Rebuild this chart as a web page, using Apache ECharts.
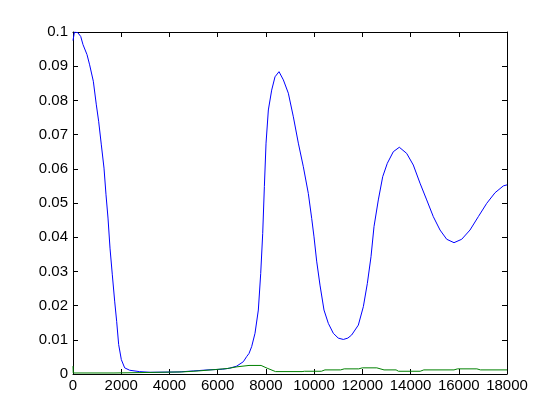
<!DOCTYPE html>
<html>
<head>
<meta charset="utf-8">
<script src="https://cdn.jsdelivr.net/npm/echarts@6/dist/echarts.min.js"></script>
<style>html,body{margin:0;padding:0;background:#fff;}#c{width:560px;height:420px;}</style>
</head>
<body>
<div id="c"></div>
<script>
var blueX = [0, 60, 200, 320, 415, 580, 690, 843, 968, 1064, 1175, 1286, 1369, 1452, 1535, 1631, 1728, 1811, 1894, 2005, 2143, 2350, 2750, 3200, 4400, 5000, 5600, 6200, 6500, 6790, 6858, 7065, 7203, 7300, 7410, 7549, 7687, 7785, 7868, 7937, 8006, 8102, 8240, 8378, 8544, 8724, 8931, 9139, 9346, 9553, 9760, 9900, 9996, 10106, 10244, 10410, 10590, 10797, 11000, 11212, 11400, 11557, 11834, 12042, 12208, 12360, 12484, 12663, 12845, 13036, 13285, 13534, 13840, 14114, 14392, 14670, 14944, 15222, 15499, 15802, 16122, 16466, 16810, 17159, 17503, 17848, 18000];
var blueY = [0.0975, 0.1000, 0.0998, 0.0987, 0.0963, 0.0934, 0.0904, 0.0856, 0.0787, 0.0739, 0.0670, 0.0602, 0.0524, 0.0456, 0.0368, 0.0290, 0.0213, 0.0154, 0.0086, 0.0042, 0.0018, 0.0011, 0.0007, 0.0005, 0.0006, 0.0009, 0.0012, 0.0014, 0.0017, 0.0023, 0.0026, 0.0036, 0.0051, 0.0060, 0.0080, 0.0119, 0.0187, 0.0294, 0.0411, 0.0548, 0.0675, 0.0772, 0.0830, 0.0869, 0.0884, 0.0860, 0.0821, 0.0752, 0.0675, 0.0606, 0.0528, 0.0455, 0.0401, 0.0330, 0.0260, 0.0187, 0.0148, 0.0119, 0.0105, 0.0101, 0.0105, 0.0114, 0.0143, 0.0197, 0.0265, 0.0343, 0.0431, 0.0509, 0.0577, 0.0616, 0.0650, 0.0663, 0.0645, 0.0611, 0.0558, 0.0509, 0.0460, 0.0421, 0.0394, 0.0384, 0.0394, 0.0421, 0.0460, 0.0499, 0.0530, 0.0550, 0.0553];
var greenX = [0, 10, 1700, 1760, 4500, 5200, 5900, 6400, 6800, 7300, 7800, 8050, 8400, 9500, 9600, 10300, 10450, 11100, 11250, 11850, 12000, 12600, 12900, 13400, 13500, 14400, 14550, 15800, 15950, 16750, 16900, 18000];
var greenY = [0.0023, 0.0003, 0.0003, 0.0006, 0.0006, 0.0009, 0.0013, 0.0016, 0.0021, 0.0025, 0.0025, 0.0017, 0.0007, 0.0007, 0.0008, 0.0008, 0.0012, 0.0012, 0.0015, 0.0015, 0.0018, 0.0018, 0.0012, 0.0012, 0.0008, 0.0008, 0.0012, 0.0012, 0.0015, 0.0015, 0.0012, 0.0012];
var xTicks = [0, 2000, 4000, 6000, 8000, 10000, 12000, 14000, 16000, 18000];
var yTicks = [0, 0.01, 0.02, 0.03, 0.04, 0.05, 0.06, 0.07, 0.08, 0.09, 0.1];

function pairs(xs, ys) { return xs.map(function (x, i) { return [x, ys[i]]; }); }

var font = '"Liberation Sans Narrow", "Arial Narrow", "Liberation Sans", sans-serif';
var axisLine = { show: true, onZero: false, lineStyle: { color: '#000', width: 1 } };
var ticks = { show: true, inside: true, length: 5, lineStyle: { color: '#000', width: 1 } };

var chart = echarts.init(document.getElementById('c'), null, { renderer: 'canvas' });
chart.setOption({
  animation: false,
  backgroundColor: '#fff',
  grid: { left: 73, right: 53, top: 32, bottom: 46, containLabel: false },
  xAxis: [
    { type: 'value', position: 'bottom', min: xTicks[0], max: xTicks[xTicks.length - 1], interval: xTicks[1] - xTicks[0],
      axisLine: axisLine, axisTick: ticks, splitLine: { show: false },
      axisLabel: { show: true, color: '#000', fontFamily: font, fontSize: 15, margin: 4, formatter: function (v) { return String(v); } } },
    { type: 'value', position: 'top', min: xTicks[0], max: xTicks[xTicks.length - 1], interval: xTicks[1] - xTicks[0],
      axisLine: axisLine, axisTick: ticks, splitLine: { show: false }, axisLabel: { show: false } }
  ],
  yAxis: [
    { type: 'value', position: 'left', min: yTicks[0], max: yTicks[yTicks.length - 1], interval: 0.01,
      axisLine: axisLine, axisTick: ticks, splitLine: { show: false },
      axisLabel: { show: true, color: '#000', fontFamily: font, fontSize: 15, margin: 5,
        formatter: function (v) { return String(parseFloat(v.toFixed(4))); } } },
    { type: 'value', position: 'right', min: yTicks[0], max: yTicks[yTicks.length - 1], interval: 0.01,
      axisLine: axisLine, axisTick: ticks, splitLine: { show: false }, axisLabel: { show: false } }
  ],
  series: [
    { type: 'line', data: pairs(blueX, blueY), showSymbol: false, symbol: 'none', smooth: false,
      lineStyle: { color: '#0000ff', width: 1 }, xAxisIndex: 0, yAxisIndex: 0, z: 2 },
    { type: 'line', data: pairs(greenX, greenY), showSymbol: false, symbol: 'none', smooth: false,
      lineStyle: { color: '#008000', width: 1 }, xAxisIndex: 0, yAxisIndex: 0, z: 3 }
  ]
});
</script>
</body>
</html>
